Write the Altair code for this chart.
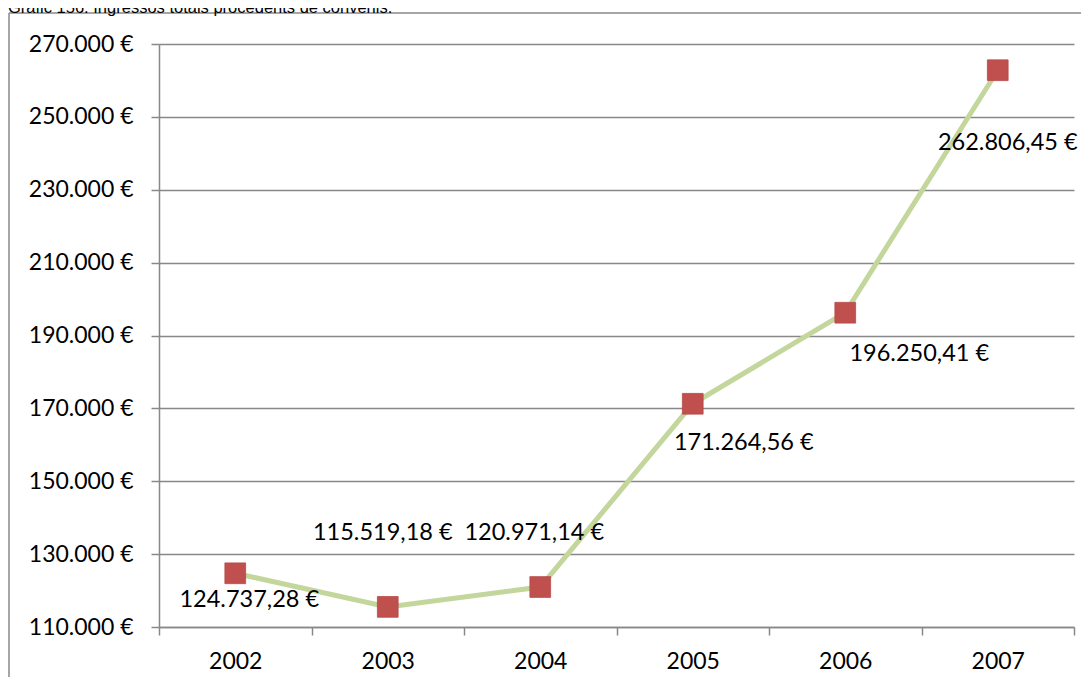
import altair as alt
import pandas as pd

years = ["2002", "2003", "2004", "2005", "2006", "2007"]
values = [124737.28, 115519.18, 120971.14, 171264.56, 196250.41, 262806.45]
y_ticks = [110000, 130000, 150000, 170000, 190000, 210000, 230000, 250000, 270000]
title_text = "Gràfic 156. Ingressos totals procedents de convenis."


def fmt(v):
    s = f"{v:,.2f}"
    return s.replace(",", "#").replace(".", ",").replace("#", ".") + " €"


df = pd.DataFrame({"year": years, "value": values, "label": [fmt(v) for v in values]})

# label placement offsets (style)
label_offsets = [(14, 27), (-5, -74), (-6, -54), (51, 39), (74, 41), (10, 73)]

FONT = "Lato"
GRAY = "#888888"

x_enc = alt.X(
    "year:N",
    bandPosition=0.5,
    scale=alt.Scale(type="band", paddingInner=0, paddingOuter=0),
    axis=alt.Axis(
        title=None, labelAngle=0, tickBand="extent", grid=False,
        domainColor=GRAY, domainWidth=1.5, tickColor=GRAY, tickWidth=1.5,
        tickSize=8, labelPadding=15, labelFont=FONT, labelFontSize=23,
        labelColor="#000000",
    ),
)
y_enc = alt.Y(
    "value:Q",
    scale=alt.Scale(domain=[110000, 270000], nice=False, zero=False),
    axis=alt.Axis(
        title=None, values=y_ticks,
        labelExpr="replace(format(datum.value, ',.0f'), ',', '.') + ' €'",
        grid=True, gridColor=GRAY, gridWidth=1.5,
        domainColor=GRAY, domainWidth=1.5, tickColor=GRAY, tickWidth=1.5,
        tickSize=8, labelPadding=18, labelFont=FONT, labelFontSize=23,
        labelColor="#000000",
    ),
)

base = alt.Chart(df)
line = base.mark_line(color="#c3d69b", strokeWidth=5).encode(x=x_enc, y=y_enc)
points = base.mark_point(
    shape="square", filled=True, size=430, color="#c0504d", opacity=1,
    stroke="#b8494a", strokeWidth=0.8,
).encode(x=x_enc, y=y_enc)

labels = []
for i, (dx, dy) in enumerate(label_offsets):
    labels.append(
        alt.Chart(df.iloc[[i]]).mark_text(
            dx=dx, dy=dy, font=FONT, fontSize=23.5, color="#000000",
            align="center", baseline="middle",
        ).encode(x=alt.X("year:N", bandPosition=0.5), y="value:Q", text="label:N")
    )

one = pd.DataFrame({"a": [0]})
border_top = alt.Chart(one).mark_rule(color=GRAY, strokeWidth=1.5).encode(
    x=alt.value(-150), x2=alt.value(940), y=alt.value(-31)
)
border_left = alt.Chart(one).mark_rule(color=GRAY, strokeWidth=1.5).encode(
    x=alt.value(-150), y=alt.value(-31), y2=alt.value(640)
)
title = alt.Chart(one).mark_text(
    text=title_text, font="Liberation Sans", fontSize=16.5, color="#000000",
    align="left", baseline="alphabetic",
).encode(x=alt.value(-151), y=alt.value(-31.5))

chart = alt.layer(line, points, *labels, border_top, border_left, title).properties(
    width=915,
    height=583,
    padding={"left": 151, "top": 36, "right": 7, "bottom": 50},
    autosize=alt.AutoSizeParams(type="none"),
    background="#ffffff",
).configure_view(stroke=None)

chart.save("out.html", embed_options={"renderer": "svg", "actions": False})
